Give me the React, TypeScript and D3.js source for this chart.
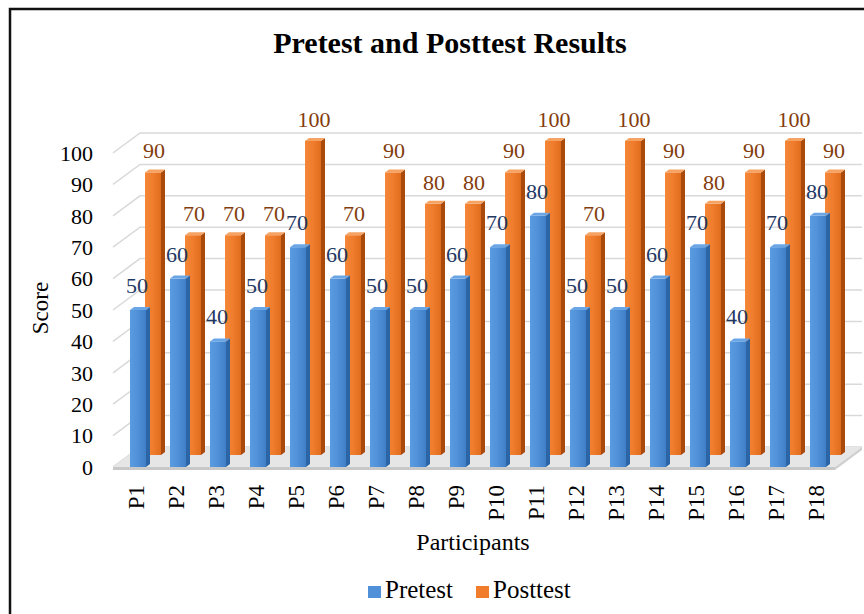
import React from "react";
import * as d3 from "d3";

const categories = ["P1","P2","P3","P4","P5","P6","P7","P8","P9","P10","P11","P12","P13","P14","P15","P16","P17","P18"];
const pretest = [50,60,40,50,70,60,50,50,60,70,80,50,50,60,70,40,70,80];
const posttest = [90,70,70,70,100,70,90,80,80,90,100,70,100,90,80,90,100,90];
const yTicks = [0,10,20,30,40,50,60,70,80,90,100];
const title = "Pretest and Posttest Results";
const seriesNames = ["Pretest", "Posttest"];

const W = 864, H = 614;
const FONT = "'Liberation Serif', 'Times New Roman', serif";

export default function App() {
  const y = d3.scaleLinear().domain([0, 100]).range([467, 153]);
  const x = d3.scaleBand<string>().domain(categories).range([113, 833]).padding(0);
  const BX = 27, BY = -20; // back wall offset
  const OX = 15, OY = -12; // orange series depth offset
  const BW = 16, DX = 4, DY = -3; // bar width and bar depth
  const inset = 17;

  const bar = (key: string, x0: number, yTop: number, yBot: number, front: string, side: string, top: string) => (
    <g key={key}>
      <rect x={x0} y={yTop} width={BW} height={yBot - yTop} fill={front} />
      <polygon points={`${x0 + BW},${yBot} ${x0 + BW + DX},${yBot + DY} ${x0 + BW + DX},${yTop + DY} ${x0 + BW},${yTop}`} fill={side} />
      <polygon points={`${x0},${yTop} ${x0 + DX},${yTop + DY} ${x0 + BW + DX},${yTop + DY} ${x0 + BW},${yTop}`} fill={top} />
    </g>
  );

  const xStart = 113, xEnd = 835;
  return (
    <svg width={W} height={H} style={{ position: "absolute", left: 0, top: 0 }} xmlns="http://www.w3.org/2000/svg">
      <defs>
        <linearGradient id="gBlue" x1="0" x2="1" y1="0" y2="0">
          <stop offset="0" stopColor="#5a9be0" />
          <stop offset="0.5" stopColor="#4f90d8" />
          <stop offset="1" stopColor="#3f7fc6" />
        </linearGradient>
        <linearGradient id="gOrange" x1="0" x2="1" y1="0" y2="0">
          <stop offset="0" stopColor="#f4873a" />
          <stop offset="0.5" stopColor="#f07c2c" />
          <stop offset="1" stopColor="#e06d1e" />
        </linearGradient>
      </defs>
      <rect x={0} y={0} width={W} height={H} fill="#ffffff" />
      <rect x={10} y={9} width={W + 20} height={H + 20} fill="none" stroke="#111" strokeWidth={2.5} />

      {/* gridlines on side and back wall */}
      {yTicks.map((v) => (
        <path key={"g" + v}
          d={`M${xStart},${y(v)} L${xStart + BX},${y(v) + BY} L${862},${y(v) + BY}`}
          fill="none" stroke="#d9d9d9" strokeWidth={1.5} />
      ))}

      {/* floor */}
      <polygon points={`${xStart},${y(0)} ${xEnd},${y(0)} ${xEnd + BX},${y(0) + BY} ${xStart + BX},${y(0) + BY}`} fill="#e6e6e6" />
      <polygon points={`${xStart},${y(0)} ${xEnd},${y(0)} ${xEnd},${y(0) + 3} ${xStart},${y(0) + 3}`} fill="#c8c8c8" />
      <polygon points={`${xEnd},${y(0)} ${xEnd + BX},${y(0) + BY} ${xEnd + BX},${y(0) + BY + 3} ${xEnd},${y(0) + 3}`} fill="#d0d0d0" />

      {/* posttest (back series) */}
      {categories.map((c, i) => {
        const x0 = (x(c) as number) + inset + OX;
        return bar("o" + c, x0, y(posttest[i]) + OY, y(0) + OY, "url(#gOrange)", "#a94a0c", "#f6a263");
      })}
      {/* pretest (front series) */}
      {categories.map((c, i) => {
        const x0 = (x(c) as number) + inset;
        return bar("b" + c, x0, y(pretest[i]), y(0), "url(#gBlue)", "#2c65a6", "#6aa6e6");
      })}

      {/* data labels */}
      {categories.map((c, i) => (
        <text key={"lo" + c} x={(x(c) as number) + inset + OX + BW / 2 + 1} y={y(posttest[i]) + OY - 14}
          textAnchor="middle" fontFamily={FONT} fontSize={22} fill="#843c0c">{posttest[i]}</text>
      ))}
      {categories.map((c, i) => (
        <text key={"lb" + c} x={(x(c) as number) + inset + BW / 2 - 1} y={y(pretest[i]) - 17}
          textAnchor="middle" fontFamily={FONT} fontSize={22} fill="#1f3864">{pretest[i]}</text>
      ))}

      {/* y tick labels */}
      {yTicks.map((v) => (
        <text key={"t" + v} x={93} y={y(v)} dy="0.35em" textAnchor="end" fontFamily={FONT} fontSize={22} fill="#000">{v}</text>
      ))}

      {/* x tick labels */}
      {categories.map((c) => (
        <text key={"x" + c} transform={`translate(${(x(c) as number) + 23},485) rotate(-90)`} dy="0.35em"
          textAnchor="end" fontFamily={FONT} fontSize={23} fill="#000">{c}</text>
      ))}

      {/* titles */}
      <text x={450} y={53} textAnchor="middle" fontFamily={FONT} fontWeight="bold" fontSize={30} fill="#000">{title}</text>
      <text x={473} y={550} textAnchor="middle" fontFamily={FONT} fontSize={24} fill="#000">Participants</text>
      <text transform="translate(40,308) rotate(-90)" dy="0.35em" textAnchor="middle" fontFamily={FONT} fontSize={23} fill="#000">Score</text>

      {/* legend */}
      <rect x={368} y={586} width={13} height={12} fill="#4f90d8" />
      <text x={385} y={598} fontFamily={FONT} fontSize={25} fill="#000">{seriesNames[0]}</text>
      <rect x={476} y={586} width={13} height={12} fill="#f07c2c" />
      <text x={493} y={598} fontFamily={FONT} fontSize={25} fill="#000">{seriesNames[1]}</text>
    </svg>
  );
}
